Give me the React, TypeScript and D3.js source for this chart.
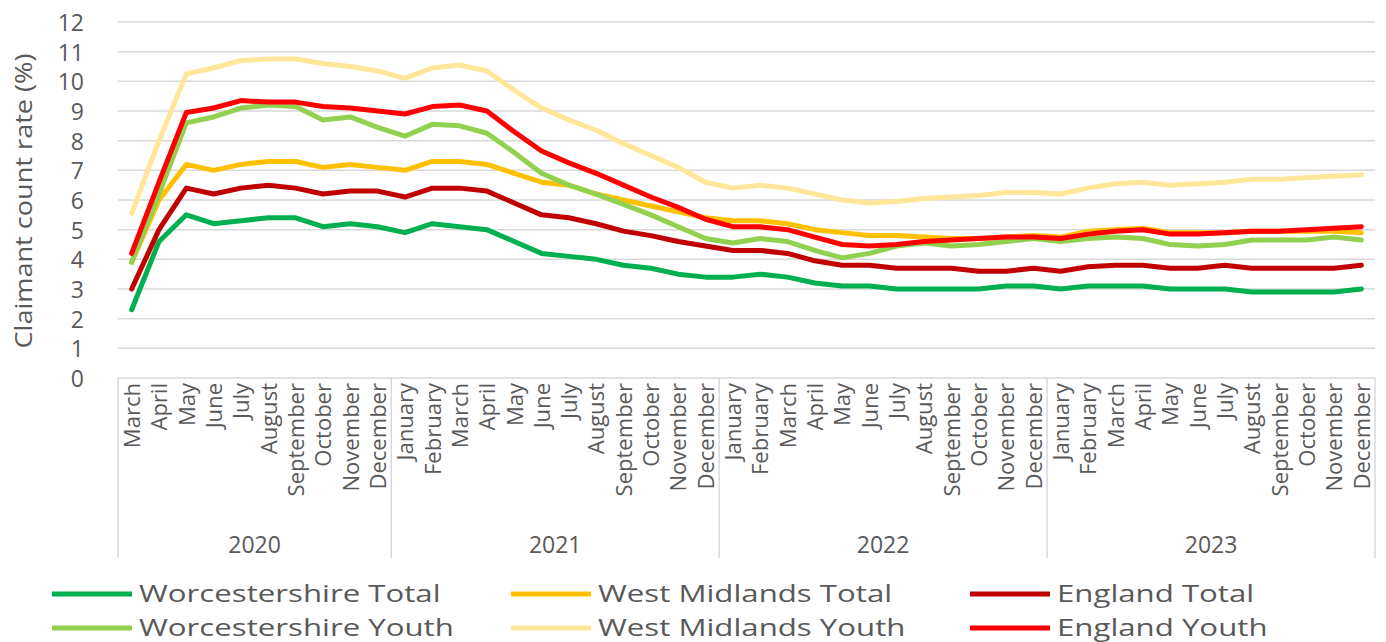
import React from "react";
import * as d3 from "d3";

const years = ["2020", "2021", "2022", "2023"];
const monthsAll = ["January","February","March","April","May","June","July","August","September","October","November","December"];
const months2020 = monthsAll.slice(2);
const categories: { year: string; month: string }[] = [
  ...months2020.map((m) => ({ year: "2020", month: m })),
  ...monthsAll.map((m) => ({ year: "2021", month: m })),
  ...monthsAll.map((m) => ({ year: "2022", month: m })),
  ...monthsAll.map((m) => ({ year: "2023", month: m })),
];

const worcsTotal = [2.3,4.6,5.5,5.2,5.3,5.4,5.4,5.1,5.2,5.1, 4.9,5.2,5.1,5.0,4.6,4.2,4.1,4.0,3.8,3.7,3.5,3.4, 3.4,3.5,3.4,3.2,3.1,3.1,3.0,3.0,3.0,3.0,3.1,3.1, 3.0,3.1,3.1,3.1,3.0,3.0,3.0,2.9,2.9,2.9,2.9,3.0];
const wmTotal = [3.9,6.0,7.2,7.0,7.2,7.3,7.3,7.1,7.2,7.1, 7.0,7.3,7.3,7.2,6.9,6.6,6.5,6.2,6.0,5.8,5.6,5.4, 5.3,5.3,5.2,5.0,4.9,4.8,4.8,4.75,4.7,4.7,4.75,4.8, 4.75,4.95,5.0,5.05,4.9,4.9,4.9,4.95,4.95,4.95,4.95,4.9];
const engTotal = [3.0,5.0,6.4,6.2,6.4,6.5,6.4,6.2,6.3,6.3, 6.1,6.4,6.4,6.3,5.9,5.5,5.4,5.2,4.95,4.8,4.6,4.45, 4.3,4.3,4.2,3.95,3.8,3.8,3.7,3.7,3.7,3.6,3.6,3.7, 3.6,3.75,3.8,3.8,3.7,3.7,3.8,3.7,3.7,3.7,3.7,3.8];
const worcsYouth = [3.9,6.2,8.6,8.8,9.1,9.2,9.15,8.7,8.8,8.45, 8.15,8.55,8.5,8.25,7.6,6.9,6.5,6.2,5.85,5.5,5.1,4.7, 4.55,4.7,4.6,4.3,4.05,4.2,4.45,4.55,4.45,4.5,4.6,4.7, 4.6,4.7,4.75,4.7,4.5,4.45,4.5,4.65,4.65,4.65,4.75,4.65];
const wmYouth = [5.55,8.0,10.25,10.45,10.7,10.75,10.75,10.6,10.5,10.35, 10.1,10.45,10.55,10.35,9.7,9.1,8.7,8.35,7.9,7.5,7.1,6.6, 6.4,6.5,6.4,6.2,6.0,5.9,5.95,6.05,6.1,6.15,6.25,6.25, 6.2,6.4,6.55,6.6,6.5,6.55,6.6,6.7,6.7,6.75,6.8,6.85];
const engYouth = [4.2,6.6,8.95,9.1,9.35,9.3,9.3,9.15,9.1,9.0, 8.9,9.15,9.2,9.0,8.3,7.65,7.25,6.9,6.5,6.1,5.75,5.35, 5.1,5.1,5.0,4.75,4.5,4.45,4.5,4.6,4.65,4.7,4.75,4.75, 4.7,4.85,4.95,5.0,4.85,4.85,4.9,4.95,4.95,5.0,5.05,5.1];

const seriesNames = ["Worcestershire Total","West Midlands Total","England Total","Worcestershire Youth","West Midlands Youth","England Youth"];
const seriesValues = [worcsTotal, wmTotal, engTotal, worcsYouth, wmYouth, engYouth];
const seriesColors = ["#00B050","#FFC000","#C00000","#92D050","#FFE699","#FF0000"];
const yTicks = [0,1,2,3,4,5,6,7,8,9,10,11,12];
const yTitle = "Claimant count rate (%)";

const W = 1386, H = 642;
const left = 118, right = 1375, top = 22, bottom = 378, catBottom = 558;
const FONT = "'Open Sans', sans-serif";
const GREY = "#595959";
const GRID = "#d9d9d9";

export default function App() {
  const x = d3.scaleBand<number>().domain(d3.range(categories.length)).range([left, right]).padding(0);
  const cx = (i: number) => (x(i) as number) + x.bandwidth() / 2;
  const y = d3.scaleLinear().domain([0, 12]).range([bottom, top]);
  const line = d3.line<number>().x((_, i) => cx(i)).y((v) => y(v));

  const groups = years.map((yr) => {
    const idx = categories.map((c, i) => (c.year === yr ? i : -1)).filter((i) => i >= 0);
    const x0 = x(idx[0]) as number;
    const x1 = (x(idx[idx.length - 1]) as number) + x.bandwidth();
    return { yr, x0, x1 };
  });
  const boundaries = [left, ...groups.map((g) => g.x1)];

  const legendCols = [52, 511, 970];
  const legendRows = [594, 628];

  return (
    <svg width={W} height={H} style={{ position: "absolute", left: 0, top: 0, background: "#fff" }} fontFamily={FONT}>
      {yTicks.map((t) => (
        <line key={t} x1={left} x2={right} y1={y(t)} y2={y(t)} stroke={GRID} strokeWidth={1.5} />
      ))}
      {boundaries.map((bx, i) => (
        <line key={i} x1={bx} x2={bx} y1={bottom} y2={catBottom} stroke={GRID} strokeWidth={1.5} />
      ))}
      {yTicks.map((t) => (
        <text key={t} x={84} y={y(t)} textAnchor="end" dominantBaseline="central" fontSize={23} fill={GREY}>{t}</text>
      ))}
      <text transform={`translate(23,${(top + bottom) / 2 + 1}) rotate(-90) scale(1.13,1)`} textAnchor="middle" dominantBaseline="central" fontSize={24} fill={GREY}>{yTitle}</text>
      {categories.map((c, i) => (
        <text key={i} transform={`translate(${cx(i)},${bottom + 5}) rotate(-90) scale(1.05,1)`} textAnchor="end" dominantBaseline="central" fontSize={21} fill={GREY}>{c.month}</text>
      ))}
      {groups.map((g) => (
        <text key={g.yr} x={(g.x0 + g.x1) / 2} y={544} textAnchor="middle" dominantBaseline="central" fontSize={23} fill={GREY}>{g.yr}</text>
      ))}
      {seriesValues.map((vals, s) => (
        <path key={s} d={line(vals) || ""} fill="none" stroke={seriesColors[s]} strokeWidth={5} strokeLinejoin="round" strokeLinecap="round" />
      ))}
      {seriesNames.map((name, s) => {
        const col = s % 3, row = Math.floor(s / 3);
        const lx = legendCols[col], ly = legendRows[row];
        return (
          <g key={name}>
            <line x1={lx} x2={lx + 80} y1={ly} y2={ly} stroke={seriesColors[s]} strokeWidth={5} />
            <text transform={`translate(${lx + 87},${ly - 1}) scale(1.3,1)`} dominantBaseline="central" fontSize={24} fill={GREY}>{name}</text>
          </g>
        );
      })}
    </svg>
  );
}
